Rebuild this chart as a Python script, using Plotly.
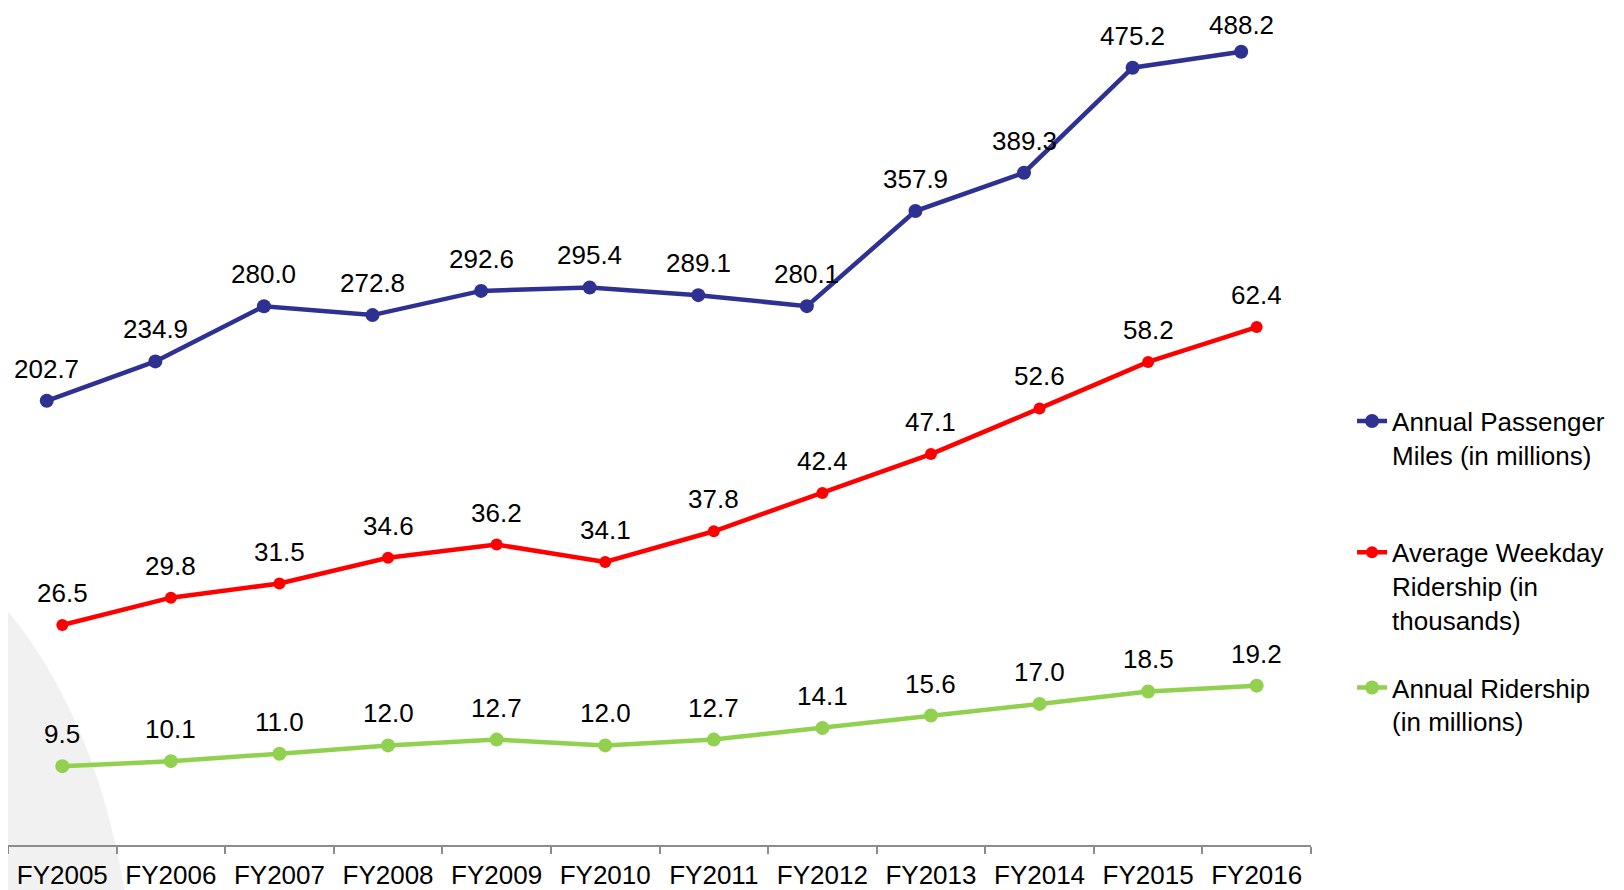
import plotly.graph_objects as go

categories = ["FY2005", "FY2006", "FY2007", "FY2008", "FY2009", "FY2010",
              "FY2011", "FY2012", "FY2013", "FY2014", "FY2015", "FY2016"]
passenger_miles = [202.7, 234.9, 280.0, 272.8, 292.6, 295.4, 289.1, 280.1, 357.9, 389.3, 475.2, 488.2]
weekday_ridership = [26.5, 29.8, 31.5, 34.6, 36.2, 34.1, 37.8, 42.4, 47.1, 52.6, 58.2, 62.4]
annual_ridership = [9.5, 10.1, 11.0, 12.0, 12.7, 12.0, 12.7, 14.1, 15.6, 17.0, 18.5, 19.2]

names = ["Annual Passenger<br>Miles (in millions)",
         "Average Weekday<br>Ridership (in<br>thousands)",
         "Annual Ridership<br>(in millions)"]

BLUE = "#2E3192"
RED = "#FF0000"
GREEN = "#92D050"
FONT = "Liberation Sans, Arial, sans-serif"

fig = go.Figure()

fig.add_trace(go.Scatter(
    x=categories, y=passenger_miles, name=names[0], mode="lines+markers",
    line=dict(color=BLUE, width=4.5), marker=dict(color=BLUE, size=14),
    xaxis="x2", yaxis="y2", legend="legend", showlegend=True))
fig.add_trace(go.Scatter(
    x=categories, y=weekday_ridership, name=names[1], mode="lines+markers",
    line=dict(color=RED, width=4.5), marker=dict(color=RED, size=12),
    legend="legend2", showlegend=True))
fig.add_trace(go.Scatter(
    x=categories, y=annual_ridership, name=names[2], mode="lines+markers",
    line=dict(color=GREEN, width=4.5), marker=dict(color=GREEN, size=14),
    legend="legend3", showlegend=True))

label_font = dict(size=26, color="black", family=FONT)
annotations = []
top_value = max(passenger_miles)
for c, v in zip(categories, passenger_miles):
    # keep the topmost label inside the figure's top edge
    shift = 27 if v == top_value else 32
    annotations.append(dict(x=c, y=v, xref="x2", yref="y2", text=f"{v:.1f}",
                            showarrow=False, yshift=shift, height=26, borderpad=0,
                            font=label_font))
for series in (weekday_ridership, annual_ridership):
    for c, v in zip(categories, series):
        annotations.append(dict(x=c, y=v, xref="x", yref="y", text=f"{v:.1f}",
                                showarrow=False, yshift=32, height=26, borderpad=0,
                                font=label_font))

legend_common = dict(xanchor="left", yanchor="top", valign="top",
                     bgcolor="rgba(0,0,0,0)", font=dict(size=26, color="black", family=FONT))

fig.update_layout(
    width=1624, height=890,
    showlegend=True,
    margin=dict(l=0, r=321, t=7, b=53, autoexpand=False),
    paper_bgcolor="white", plot_bgcolor="rgba(0,0,0,0)",
    font=dict(family=FONT, size=26, color="black"),
    xaxis=dict(type="category", range=[-0.5, 11.5], showgrid=False, zeroline=False,
               showline=True, linecolor="#8C8C8C", linewidth=2, automargin=False,
               ticks="outside", tickson="boundaries", ticklen=7, tickwidth=2,
               ticklabelstandoff=6,
               tickcolor="#8C8C8C", tickfont=dict(size=26, color="black", family=FONT)),
    xaxis2=dict(type="category", overlaying="x", range=[-0.357, 11.643],
                visible=False),
    yaxis=dict(range=[0, 100], visible=False),
    yaxis2=dict(range=[-160.7, 518.3], overlaying="y", visible=False),
    annotations=annotations,
    legend=dict(x=1.0315, y=0.539, **legend_common),
    legend2=dict(x=1.0315, y=0.381, **legend_common),
    legend3=dict(x=1.0315, y=0.218, **legend_common),
    shapes=[dict(type="path", xref="paper", yref="paper", layer="below",
                 path="M -0.01 0.30 Q 0.07 0.16 0.092 -0.08 L -0.01 -0.08 Z",
                 fillcolor="#F1F1F1", line=dict(width=0))],
)

fig.write_html("out.html")
